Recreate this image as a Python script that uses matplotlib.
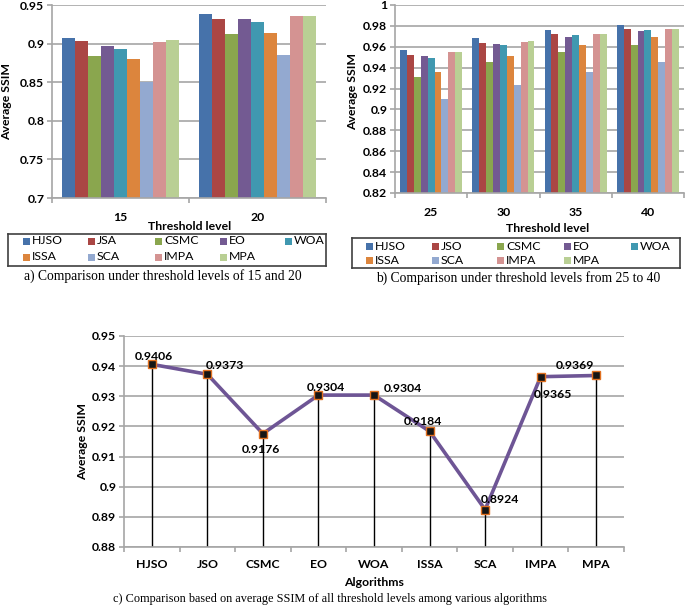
import matplotlib
matplotlib.use('Agg')
import matplotlib.pyplot as plt
import numpy as np
from matplotlib.patches import Rectangle

# ---------------- data ----------------
algos_a = ['HJSO', 'JSA', 'CSMC', 'EO', 'WOA', 'ISSA', 'SCA', 'IMPA', 'MPA']
algos_b = ['HJSO', 'JSO', 'CSMC', 'EO', 'WOA', 'ISSA', 'SCA', 'IMPA', 'MPA']
levels_a = ['15', '20']
levels_b = ['25', '30', '35', '40']

# panel a: one list per algorithm, values for levels 15, 20
hjso_a = [0.907, 0.938]
jsa_a = [0.904, 0.932]
csmc_a = [0.884, 0.913]
eo_a = [0.8965, 0.932]
woa_a = [0.8925, 0.928]
issa_a = [0.880, 0.9135]
sca_a = [0.8505, 0.885]
impa_a = [0.9025, 0.936]
mpa_a = [0.9045, 0.936]

# panel b: one list per algorithm, values for levels 25, 30, 35, 40
hjso_b = [0.957, 0.968, 0.9757, 0.981]
jso_b = [0.952, 0.964, 0.972, 0.977]
csmc_b = [0.931, 0.945, 0.955, 0.9615]
eo_b = [0.951, 0.9625, 0.9696, 0.975]
woa_b = [0.949, 0.9615, 0.9708, 0.976]
issa_b = [0.9355, 0.951, 0.9615, 0.969]
sca_b = [0.910, 0.9236, 0.9355, 0.9455]
impa_b = [0.9546, 0.965, 0.972, 0.977]
mpa_b = [0.9546, 0.9658, 0.9725, 0.977]

# panel c
algos_c = ['HJSO', 'JSO', 'CSMC', 'EO', 'WOA', 'ISSA', 'SCA', 'IMPA', 'MPA']
avg_ssim = [0.9406, 0.9373, 0.9176, 0.9304, 0.9304, 0.9184, 0.8924, 0.9365, 0.9369]
avg_labels = ['0.9406', '0.9373', '0.9176', '0.9304', '0.9304', '0.9184', '0.8924', '0.9365', '0.9369']

series_a = [hjso_a, jsa_a, csmc_a, eo_a, woa_a, issa_a, sca_a, impa_a, mpa_a]
series_b = [hjso_b, jso_b, csmc_b, eo_b, woa_b, issa_b, sca_b, impa_b, mpa_b]

colors = ['#4672AA', '#AA4644', '#8AA64E', '#735A92', '#4098B0',
          '#DC853D', '#93A9D0', '#D49392', '#B9CF94']

GRID = '#A6A6A6'
FONT = 'Lato'
SERIF = 'Liberation Serif'

W, H = 685, 609
fig = plt.figure(figsize=(W / 100, H / 100), dpi=100)


def rect(l, t, r, b):
    return [l / W, 1 - b / H, (r - l) / W, (b - t) / H]


def fx(x):
    return x / W


def fy(y):
    return 1 - y / H


def style_axes(ax, ymin, ymax, step, ncat, cat_labels, label_pad):
    ax.set_ylim(ymin, ymax)
    ax.set_yticks(np.round(np.arange(ymin, ymax + step / 2, step), 4))
    ax.yaxis.set_major_formatter(matplotlib.ticker.FormatStrFormatter('%g'))
    ax.yaxis.grid(True, color=GRID, lw=1.2)
    ax.set_axisbelow(True)
    for s in ['top', 'right']:
        ax.spines[s].set_visible(False)
    for s in ['left', 'bottom']:
        ax.spines[s].set_color(GRID)
        ax.spines[s].set_linewidth(1.2)
    ax.set_xlim(-0.5, ncat - 0.5)
    ax.set_xticks(np.arange(-0.5, ncat, 1.0))
    ax.set_xticklabels([])
    ax.set_xticks(np.arange(ncat), minor=True)
    ax.set_xticklabels(cat_labels, minor=True)
    ax.tick_params(axis='x', which='major', length=3.5, color=GRID, width=1.2)
    ax.tick_params(axis='x', which='minor', length=0, pad=label_pad, labelsize=8.8)
    ax.tick_params(axis='y', length=3.5, color=GRID, width=1.2, pad=2, labelsize=8.8)
    for t in ax.get_yticklabels() + ax.get_xticklabels(minor=True):
        t.set_fontfamily(FONT)
        t.set_fontweight('bold')


def bars(ax, series, ncat):
    n = len(series)
    gw = 0.86
    bw = gw / n
    x = np.arange(ncat)
    for i, vals in enumerate(series):
        ax.bar(x + (i - (n - 1) / 2) * bw, vals, bw, color=colors[i],
               linewidth=0, zorder=2)


def legend_box(l, t, r, b, names, xs, ys):
    lax = fig.add_axes(rect(l, t, r, b))
    lax.set_xlim(l, r)
    lax.set_ylim(b, t)
    lax.set_xticks([])
    lax.set_yticks([])
    for s in lax.spines.values():
        s.set_color('#404040')
        s.set_linewidth(1.2)
    for i, name in enumerate(names):
        x = xs[i % 5]
        y = ys[i // 5]
        lax.add_patch(Rectangle((x, y - 3.5), 7, 7, color=colors[i], lw=0))
        lax.text(x + 9, y, name, fontsize=8.8, fontfamily=FONT, va='center', ha='left')


# ---------------- panel a ----------------
axa = fig.add_axes(rect(52, 5, 326, 198))
bars(axa, series_a, 2)
style_axes(axa, 0.7, 0.95, 0.05, 2, levels_a, 10)
fig.text(fx(190), fy(226), 'Threshold level', fontsize=8.8, fontweight='bold',
         fontfamily=FONT, ha='center', va='center')
fig.text(fx(7), fy(101), 'Average SSIM', fontsize=8.8, fontweight='bold',
         fontfamily=FONT, ha='center', va='center', rotation=90)
legend_box(8, 234, 326, 266, algos_a, [23, 88, 155, 220, 285], [241, 257])
fig.text(fx(163), fy(276), 'a) Comparison under threshold levels of 15 and 20',
         fontsize=9.8, fontfamily=SERIF, ha='center', va='center')

# ---------------- panel b ----------------
axb = fig.add_axes(rect(395, 5, 684, 193))
bars(axb, series_b, 4)
style_axes(axb, 0.82, 1.0, 0.02, 4, levels_b, 10)
fig.text(fx(548), fy(229), 'Threshold level', fontsize=8.8, fontweight='bold',
         fontfamily=FONT, ha='center', va='center')
fig.text(fx(353), fy(91), 'Average SSIM', fontsize=8.8, fontweight='bold',
         fontfamily=FONT, ha='center', va='center', rotation=90)
legend_box(352, 238, 680, 268, algos_b, [366, 432, 497, 564, 631], [246, 260])
fig.text(fx(518), fy(278), 'b) Comparison under threshold levels from 25 to 40',
         fontsize=9.8, fontfamily=SERIF, ha='center', va='center')

# ---------------- panel c ----------------
axc = fig.add_axes(rect(124, 336, 624, 547))
xc = np.arange(len(algos_c))
axc.vlines(xc, 0.88, avg_ssim, color='black', lw=1, zorder=2)
axc.plot(xc, avg_ssim, color='#6E5595', lw=2.6, zorder=3)
axc.plot(xc, avg_ssim, ls='none', marker='s', ms=5.5, mfc='#151515',
         mec='#E07020', mew=1, zorder=4)
style_axes(axc, 0.88, 0.95, 0.01, len(algos_c), algos_c, 9)
axc.yaxis.set_major_formatter(matplotlib.ticker.FormatStrFormatter('%g'))
for t in axc.get_yticklabels():
    t.set_fontfamily(FONT)
    t.set_fontweight('bold')

offsets = [(2, 8), (18, 9), (-2, -16), (7, 8), (29, 7), (-7, 10), (15, 10), (12, -18), (-21, 10)]
for i, (v, lab) in enumerate(zip(avg_ssim, avg_labels)):
    dx, dy = offsets[i]
    axc.annotate(lab, (xc[i], v), xytext=(dx * 0.72, dy * 0.72), textcoords='offset points',
                 ha='center', va='center', fontsize=8.8, fontweight='bold',
                 fontfamily=FONT, zorder=5)

fig.text(fx(374), fy(582), 'Algorithms', fontsize=8.8, fontweight='bold',
         fontfamily=FONT, ha='center', va='center')
fig.text(fx(83), fy(442), 'Average SSIM', fontsize=8.8, fontweight='bold',
         fontfamily=FONT, ha='center', va='center', rotation=90)
fig.text(fx(330), fy(599),
         'c) Comparison based on average SSIM of all threshold levels among various algorithms',
         fontsize=8.8, fontfamily=SERIF, ha='center', va='center')

fig.savefig('out.png', dpi=100, facecolor='white')
